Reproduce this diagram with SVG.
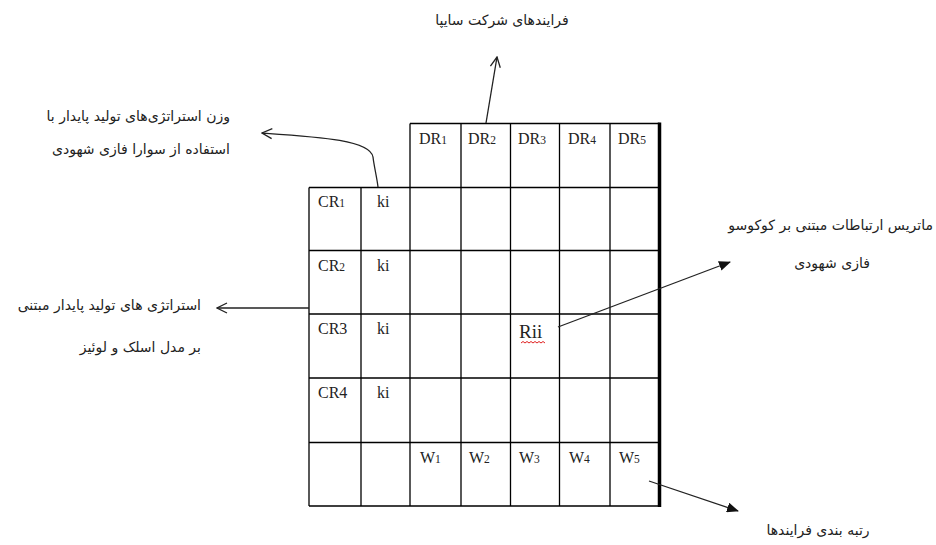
<svg xmlns="http://www.w3.org/2000/svg" width="936" height="545" viewBox="0 0 936 545">
<style>
.g{stroke:#000;stroke-width:1.3;fill:none}
.c{font-family:"Liberation Serif",serif;font-size:16px;fill:#222}
.s{font-size:11.5px}
.fa{font-family:"DejaVu Sans",sans-serif;font-size:14px;fill:#222}
.ln{stroke:#222;stroke-width:1.3;fill:none}
</style>
<defs>
<marker id="open" viewBox="0 0 12 12" refX="11" refY="6" markerWidth="12" markerHeight="12" markerUnits="userSpaceOnUse" orient="auto">
<path d="M1,1 L11,6 L1,11" fill="none" stroke="#222" stroke-width="1.3"/>
</marker>
<marker id="fill" viewBox="0 0 12 10" refX="11" refY="5" markerWidth="12" markerHeight="10" markerUnits="userSpaceOnUse" orient="auto">
<path d="M0,0 L12,5 L0,10 Z" fill="#111"/>
</marker>
</defs>
<rect width="936" height="545" fill="#fff"/>
<g id="matrix">
<path class="g" d="M410,123.5 H659.5 M309,187.5 H659.5 M309,250.5 H659.5 M309,314 H659.5 M309,378 H659.5 M309,442.5 H659.5 M309,506 H659.5"/>
<path class="g" d="M309,187.5 V506 M361,187.5 V506 M410,123.5 V506 M461,123.5 V506 M510.5,123.5 V506 M559.5,123.5 V506 M610,123.5 V506"/>
<path d="M659.5,122.5 V507" stroke="#000" stroke-width="3.5"/>
</g>
<g id="headers">
<text class="c" x="419" y="144">DR<tspan class="s">1</tspan></text>
<text class="c" x="468" y="144">DR<tspan class="s">2</tspan></text>
<text class="c" x="518" y="144">DR<tspan class="s">3</tspan></text>
<text class="c" x="568" y="144">DR<tspan class="s">4</tspan></text>
<text class="c" x="618" y="144">DR<tspan class="s">5</tspan></text>
<text class="c" x="318" y="207">CR<tspan class="s">1</tspan></text>
<text class="c" x="318" y="271">CR<tspan class="s">2</tspan></text>
<text class="c" x="318" y="334">CR3</text>
<text class="c" x="318" y="398">CR4</text>
<text class="c" x="377" y="207">ki</text>
<text class="c" x="377" y="271">ki</text>
<text class="c" x="377" y="334">ki</text>
<text class="c" x="377" y="398">ki</text>
<text class="c" x="420" y="463">W<tspan class="s">1</tspan></text>
<text class="c" x="469" y="463">W<tspan class="s">2</tspan></text>
<text class="c" x="519" y="463">W<tspan class="s">3</tspan></text>
<text class="c" x="569" y="463">W<tspan class="s">4</tspan></text>
<text class="c" x="619" y="463">W<tspan class="s">5</tspan></text>
<text class="c" x="519" y="338" style="font-size:19px">Rii</text>
<path d="M521,343 l2,-1.5 l2,1.5 l2,-1.5 l2,1.5 l2,-1.5 l2,1.5 l2,-1.5 l2,1.5 l2,-1.5 l2,1.5 l2,-1.5 l2,1.5" fill="none" stroke="#e02020" stroke-width="1"/>
</g>
<g id="connectors">
<path class="ln" d="M378,187 C377,178 374,166 373,157 C370,140 320,137 262,133" marker-end="url(#open)"/>
<path class="ln" d="M486,123 L497,57" marker-end="url(#open)"/>
<path class="ln" d="M309,308 L217,308" marker-end="url(#open)"/>
<path class="ln" d="M558,327 L730,262" marker-end="url(#fill)"/>
<path class="ln" d="M649,481 L738,511" marker-end="url(#fill)"/>
</g>
<g id="labels">
<text class="fa" x="502" y="25" text-anchor="middle">فرایندهای شرکت سایپا</text>
<text class="fa" x="230" y="121" text-anchor="end">وزن استراتژی‌های تولید پایدار با</text>
<text class="fa" x="230" y="154" text-anchor="end">استفاده از سوارا فازی شهودی</text>
<text class="fa" x="201" y="310" text-anchor="end">استراتژی های تولید پایدار مبتنی</text>
<text class="fa" x="201" y="352" text-anchor="end">بر مدل اسلک و لوئیز</text>
<text class="fa" x="933" y="230" text-anchor="end">ماتریس ارتباطات مبتنی بر کوکوسو</text>
<text class="fa" x="832" y="268" text-anchor="middle">فازی شهودی</text>
<text class="fa" x="818" y="535" text-anchor="middle">رتبه بندی فرایندها</text>
</g>
</svg>
